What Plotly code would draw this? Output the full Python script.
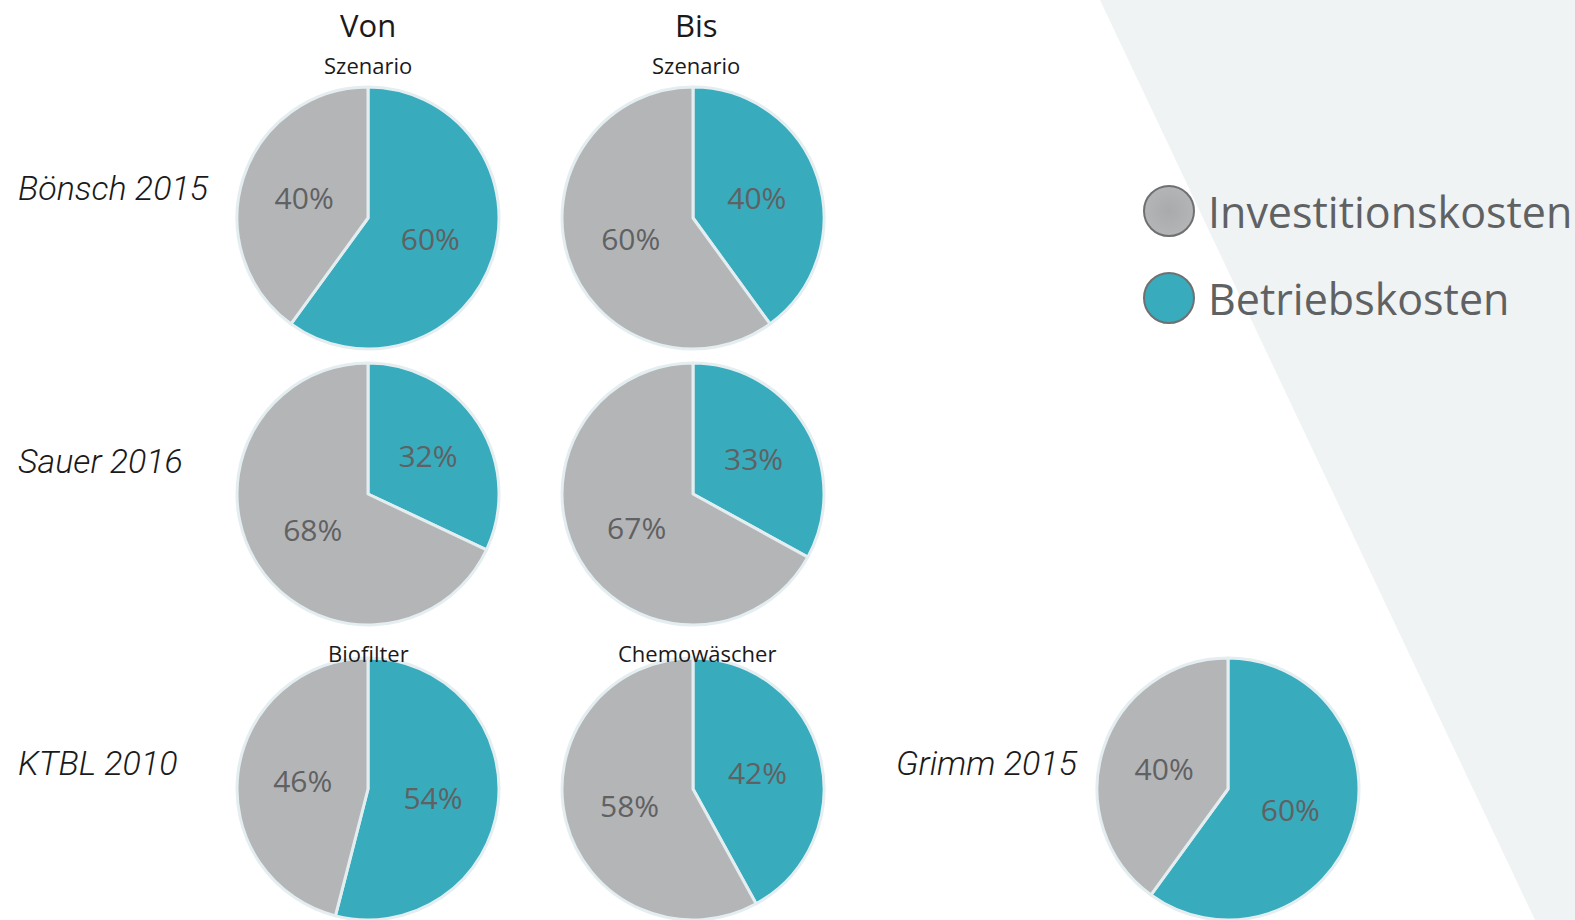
import plotly.graph_objects as go

# ---- data ----
categories = ["Betriebskosten", "Investitionskosten"]
pie_names = ["Bönsch Von", "Bönsch Bis", "Sauer Von", "Sauer Bis",
             "KTBL Biofilter", "KTBL Chemowäscher", "Grimm"]
betriebs = [60, 40, 32, 33, 54, 42, 60]
invest = [40, 60, 68, 67, 46, 58, 40]
row_labels = ["Bönsch 2015", "Sauer 2016", "KTBL 2010", "Grimm 2015"]
col_headers = ["Von", "Bis"]
sub_headers = ["Szenario", "Szenario", "Biofilter", "Chemowäscher"]
legend_labels = ["Investitionskosten", "Betriebskosten"]

W, H = 1575, 920
TEAL = "#38abbc"
GRAY = "#b4b5b7"

# pie centres (px) and radius
centres = [(368, 218), (693, 218), (368, 494), (693, 494),
           (368, 789), (693, 789), (1228, 789)]
R = 131

fig = go.Figure()

# invisible cartesian frame for legend markers
fig.add_trace(go.Scatter(
    x=[1169, 1169], y=[211, 298], mode="markers",
    marker=dict(size=50, color=[GRAY, TEAL],
                gradient=dict(type="radial", color=["#a9aaac", TEAL]),
                line=dict(color="#6f7072", width=2)),
    showlegend=False, hoverinfo="skip"))

def clamp(v):
    return min(1.0, max(0.0, v))

for name, b, i, (cx, cy) in zip(pie_names, betriebs, invest, centres):
    fig.add_trace(go.Pie(
        labels=categories, values=[b, i], name=name,
        sort=False, direction="clockwise", rotation=0,
        marker=dict(colors=[TEAL, GRAY], line=dict(color="#e4eef1", width=3)),
        texttemplate="%{value}%", textposition="inside",
        insidetextorientation="horizontal",
        textfont=dict(family="Open Sans", size=30, color="#606163"),
        domain=dict(x=[clamp((cx - R) / W), clamp((cx + R) / W)],
                    y=[clamp(1 - (cy + R) / H), clamp(1 - (cy - R) / H)]),
        showlegend=False, hoverinfo="label+value"))

annotations = []
def ann(text, x, y, size, color="#1a1a1a", xanchor="center", italic=False,
        family="Open Sans", weight="normal"):
    annotations.append(dict(
        text=text, x=x, y=y, xref="x", yref="y", showarrow=False,
        xanchor=xanchor, yanchor="middle",
        font=dict(family=family, size=size, color=color,
                  style="italic" if italic else "normal", weight=weight)))

ann(col_headers[0], 368, 25, 31)
ann(col_headers[1], 696, 25, 31)
ann(sub_headers[0], 368, 65, 22)
ann(sub_headers[1], 696, 65, 22)
ann(sub_headers[2], 368, 653, 22)
ann(sub_headers[3], 697, 653, 22)

ann(row_labels[0], 16, 188, 34, xanchor="left", italic=True, family="Roboto", weight=300)
ann(row_labels[1], 16, 461, 34, xanchor="left", italic=True, family="Roboto", weight=300)
ann(row_labels[2], 16, 763, 34, xanchor="left", italic=True, family="Roboto", weight=300)
ann(row_labels[3], 894, 763, 34, xanchor="left", italic=True, family="Roboto", weight=300)

ann(legend_labels[0], 1206, 211, 43, color="#606163", xanchor="left")
ann(legend_labels[1], 1206, 298, 43, color="#606163", xanchor="left")

fig.update_layout(
    width=W, height=H,
    margin=dict(l=0, r=0, t=0, b=0),
    paper_bgcolor="white", plot_bgcolor="rgba(0,0,0,0)",
    xaxis=dict(range=[0, W], visible=False, fixedrange=True),
    yaxis=dict(range=[H, 0], visible=False, fixedrange=True),
    shapes=[dict(type="path", xref="x", yref="y",
                 path=f"M 1100 0 L {W} 0 L {W} {H} L 1535 {H} Z",
                 fillcolor="#eff3f4", line=dict(width=0), layer="below")],
    annotations=annotations,
    showlegend=False,
)

fig.write_html("out.html", config={"displayModeBar": False},
               post_script="document.body.style.margin='0';document.body.style.overflow='hidden';")
